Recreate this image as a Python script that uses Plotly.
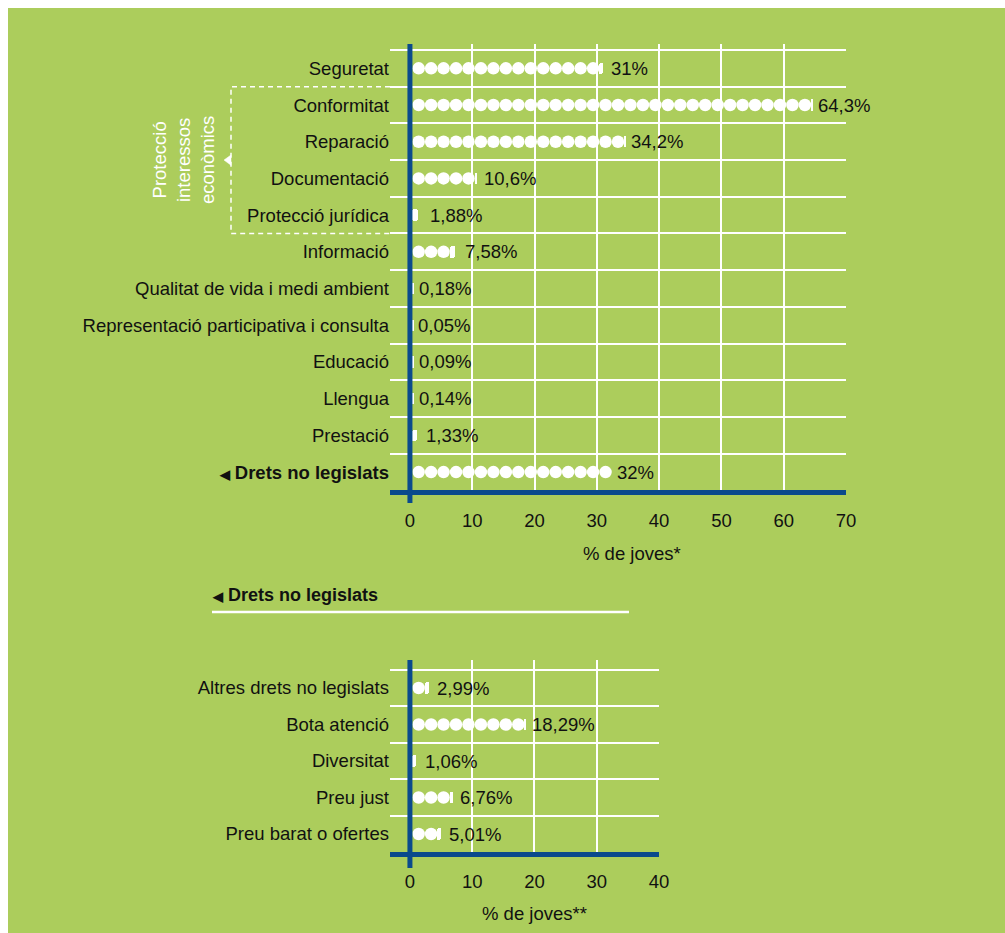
import plotly.graph_objects as go

# ---- data -------------------------------------------------------------
cats_top = [
    "Seguretat", "Conformitat", "Reparació", "Documentació", "Protecció jurídica",
    "Informació", "Qualitat de vida i medi ambient",
    "Representació participativa i consulta", "Educació", "Llengua",
    "Prestació", "Drets no legislats",
]
vals_top = [31, 64.3, 34.2, 10.6, 1.88, 7.58, 0.18, 0.05, 0.09, 0.14, 1.33, 32]

cats_bot = ["Altres drets no legislats", "Bota atenció", "Diversitat",
            "Preu just", "Preu barat o ofertes"]
vals_bot = [2.99, 18.29, 1.06, 6.76, 5.01]

ticks_top = [0, 10, 20, 30, 40, 50, 60, 70]
ticks_bot = [0, 10, 20, 30, 40]

# ---- style ------------------------------------------------------------
W, H = 1005, 933
GREEN = "#ACCD5C"
BLUE = "#0A4A8C"
INK = "#111111"
FONT = "Liberation Sans, Arial, Helvetica, sans-serif"
FS = 18.5
UNIT = 2.0          # one dot = 2 %
DOT_PX = 12.5
START = 0.4         # dots start just right of the zero line


def px_x(p):
    return p / W


def px_y(p):
    return 1 - p / H


def label(v):
    return f"{v:g}".replace(".", ",") + "%"


def dot_traces(vals, xa, ya):
    """Full dots for every 2 %, plus a small piece for the remainder."""
    dx, dy, bx, bb, by = [], [], [], [], []
    for i, v in enumerate(vals):
        n = int(v // UNIT)
        for k in range(n):
            dx.append(START + k * UNIT + UNIT / 2)
            dy.append(i)
        r = v - n * UNIT
        if r > 1e-9:
            bb.append(START + n * UNIT)
            bx.append(min(0.9, max(0.3, r * 0.6)))
            by.append(i)
    dots = go.Scatter(x=dx, y=dy, mode="markers", xaxis=xa, yaxis=ya,
                      marker=dict(size=DOT_PX, color="white", line=dict(width=0)),
                      hoverinfo="skip", showlegend=False)
    pieces = go.Bar(x=bx, base=bb, y=by, orientation="h", xaxis=xa, yaxis=ya,
                    width=0.31, marker=dict(color="white", line=dict(width=0),
                                            cornerradius=3),
                    hoverinfo="skip", showlegend=False)
    return [pieces, dots]


fig = go.Figure()
for t in dot_traces(vals_top, "x", "y"):
    fig.add_trace(t)
for t in dot_traces(vals_bot, "x2", "y2"):
    fig.add_trace(t)

# ---- axes -------------------------------------------------------------
top_x_dom = [px_x(390), px_x(846)]
bot_x_dom = [px_x(390), px_x(659)]
top_rng = [-3.2, 70]
bot_rng = [-3.2, 40]

common_x = dict(showgrid=True, gridcolor="white", gridwidth=1.5, zeroline=False,
                showline=True, linecolor=BLUE, linewidth=5, ticks="",
                ticklabelstandoff=9, automargin=False,
                tickfont=dict(family=FONT, size=FS, color=INK), fixedrange=True)
common_y = dict(showgrid=False, zeroline=False, showline=False, ticks="",
                automargin=False,
                tickfont=dict(family=FONT, size=FS, color=INK), fixedrange=True)

ticktext_top = cats_top[:-1] + [
    "<b><span style='font-size:13px'>◀</span> " + cats_top[-1] + "</b>"]

fig.update_layout(
    xaxis=dict(domain=top_x_dom, range=top_rng, anchor="y",
               tickmode="array", tickvals=ticks_top, **common_x),
    yaxis=dict(domain=[px_y(490.4), px_y(44)], range=[len(cats_top) - 0.5, -0.663],
               anchor="x", tickmode="array", tickvals=list(range(len(cats_top))),
               ticktext=ticktext_top,
               minor=dict(tickmode="array",
                          tickvals=[i - 0.5 for i in range(len(cats_top))],
                          showgrid=True, gridcolor="white", gridwidth=1.5, ticks=""),
               **common_y),
    xaxis2=dict(domain=bot_x_dom, range=bot_rng, anchor="y2",
                tickmode="array", tickvals=ticks_bot, **common_x),
    yaxis2=dict(domain=[px_y(852.25), px_y(660)], range=[len(cats_bot) - 0.5, -0.767],
                anchor="x2", tickmode="array", tickvals=list(range(len(cats_bot))),
                ticktext=cats_bot,
                minor=dict(tickmode="array",
                           tickvals=[i - 0.5 for i in range(len(cats_bot))],
                           showgrid=True, gridcolor="white", gridwidth=1.5, ticks=""),
                **common_y),
    width=W, height=H, autosize=False,
    margin=dict(l=0, r=0, t=0, b=0, pad=0),
    paper_bgcolor="white", plot_bgcolor="rgba(0,0,0,0)",
    font=dict(family=FONT, size=FS, color=INK),
    bargap=0, showlegend=False,
)


def zero_px(dom, rng):
    return dom[0] + (0 - rng[0]) / (rng[1] - rng[0]) * (dom[1] - dom[0])


shapes = [
    # green panel
    dict(type="rect", xref="paper", yref="paper", x0=px_x(8), x1=1, y0=0, y1=px_y(8),
         fillcolor=GREEN, line=dict(width=0), layer="below"),
    # value axes at zero
    dict(type="line", xref="paper", yref="paper",
         x0=zero_px(top_x_dom, top_rng), x1=zero_px(top_x_dom, top_rng),
         y0=px_y(44), y1=px_y(503), line=dict(color=BLUE, width=5), layer="above"),
    dict(type="line", xref="paper", yref="paper",
         x0=zero_px(bot_x_dom, bot_rng), x1=zero_px(bot_x_dom, bot_rng),
         y0=px_y(660), y1=px_y(868), line=dict(color=BLUE, width=5), layer="above"),
    # bracket around the economic-interest group
    dict(type="path", xref="paper", yref="y",
         path=f"M {px_x(390)},0.5 L {px_x(231)},0.5 L {px_x(231)},4.5 L {px_x(390)},4.5",
         line=dict(color="white", width=1.5, dash="5px,4px")),
    dict(type="path", xref="paper", yref="y",
         path=f"M {px_x(231)},2.36 L {px_x(224)},2.5 L {px_x(231)},2.64 Z",
         fillcolor="white", line=dict(color="white", width=0.5)),
    # underline of the section header
    dict(type="line", xref="paper", yref="paper", x0=px_x(212), x1=px_x(629),
         y0=px_y(612), y1=px_y(612), line=dict(color="white", width=2.5)),
]
fig.update_layout(shapes=shapes)

ann = []
for i, v in enumerate(vals_top):
    ann.append(dict(x=v, y=i, xref="x", yref="y", text=label(v), showarrow=False,
                    xanchor="left", yanchor="middle", xshift=6,
                    font=dict(family=FONT, size=FS, color=INK)))
for i, v in enumerate(vals_bot):
    ann.append(dict(x=v, y=i, xref="x2", yref="y2", text=label(v), showarrow=False,
                    xanchor="left", yanchor="middle", xshift=6,
                    font=dict(family=FONT, size=FS, color=INK)))

ann += [
    dict(x=35, y=px_y(553), xref="x", yref="paper", text="% de joves*",
         showarrow=False, xanchor="center", yanchor="middle", xshift=4,
         font=dict(family=FONT, size=FS, color=INK)),
    dict(x=20, y=px_y(913), xref="x2", yref="paper", text="% de joves**",
         showarrow=False, xanchor="center", yanchor="middle", xshift=0,
         font=dict(family=FONT, size=FS, color=INK)),
    dict(x=px_x(183), y=2.5, xref="paper", yref="y",
         text="Protecció<br>interessos<br>econòmics", textangle=-90,
         showarrow=False, xanchor="center", yanchor="middle",
         font=dict(family=FONT, size=18.5, color="white")),
    dict(x=px_x(210), y=px_y(595), xref="paper", yref="paper",
         text="<b><span style='font-size:13px'>◀</span> Drets no legislats</b>",
         showarrow=False, xanchor="left", yanchor="middle",
         font=dict(family=FONT, size=18, color=INK)),
]
fig.update_layout(annotations=ann)

fig.write_html("out.html", config={"responsive": False})
